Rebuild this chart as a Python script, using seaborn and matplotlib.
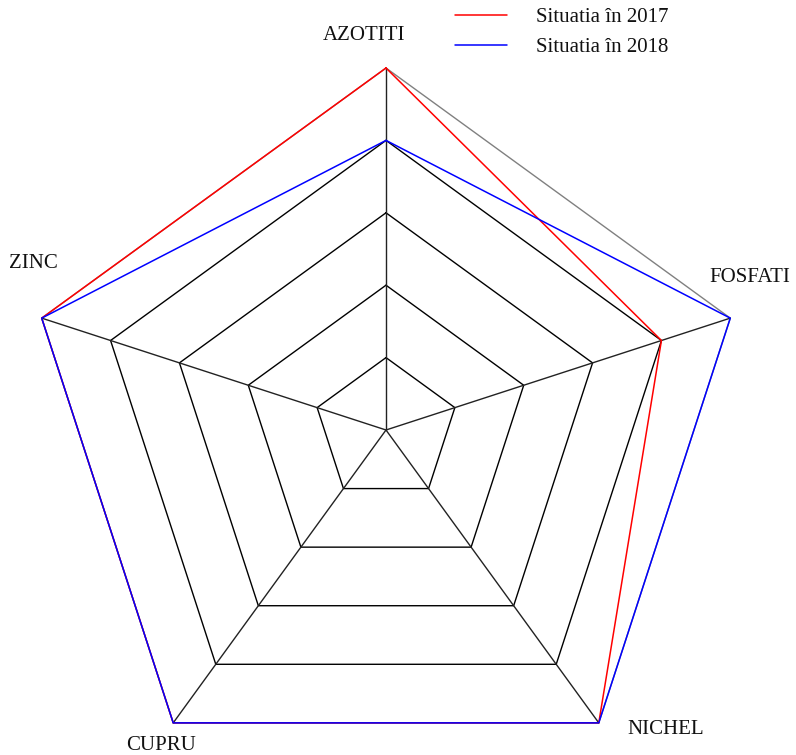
import numpy as np
import pandas as pd
import matplotlib
matplotlib.use("Agg")
import matplotlib.pyplot as plt
import seaborn as sns

categories = ["AZOTITI", "FOSFATI", "NICHEL", "CUPRU", "ZINC"]
values_2017 = [5, 4, 5, 5, 5]
values_2018 = [4, 5, 5, 5, 5]
series_labels = ["Situatia în 2017", "Situatia în 2018"]
levels = [1, 2, 3, 4, 5]
max_level = 5

sns.set_theme(style="white")
plt.rcParams["font.family"] = ["Liberation Serif", "DejaVu Serif"]

W, H, DPI = 796, 755, 100
fig = plt.figure(figsize=(W / DPI, H / DPI), dpi=DPI)
ax = fig.add_axes([0, 0, 1, 1])

# pixel layout -> data units (radius 1 == outer pentagon)
cx, cy, R = 386, 430, 362
ax.set_xlim(-cx / R, (W - cx) / R)
ax.set_ylim(-(H - cy) / R, cy / R)
ax.axis("off")

n = len(categories)
angles = np.deg2rad(90 - 360 / n * np.arange(n))

def to_xy(vals):
    r = np.asarray(vals, dtype=float) / max_level
    r = np.append(r, r[0])
    a = np.append(angles, angles[0])
    return r * np.cos(a), r * np.sin(a)

# grid pentagons
for lv in levels:
    x, y = to_xy([lv] * n)
    col = "#808080" if lv == max_level else "black"
    ax.plot(x, y, color=col, lw=1.0, zorder=1)
# spokes
for a in angles:
    ax.plot([0, np.cos(a)], [0, np.sin(a)], color="#222222", lw=1.0, zorder=1)

colors = ["#ff0000", "#0000ff"]
for vals, lab, col, z in zip([values_2017, values_2018], series_labels, colors, [2, 3]):
    x, y = to_xy(vals)
    df = pd.DataFrame({"x": x, "y": y, "i": np.arange(len(x))})
    sns.lineplot(data=df, x="x", y="y", sort=False, estimator=None, color=col,
                 lw=1.1, ax=ax, label=lab, zorder=z)

# category labels (pixel positions of label centres)
label_pos = {"AZOTITI": (364, 35), "FOSFATI": (750, 277), "NICHEL": (666, 729),
             "CUPRU": (161, 745), "ZINC": (33, 263)}
for c in categories:
    px, py = label_pos[c]
    ax.text((px - cx) / R, (cy - py) / R, c, ha="center", va="center",
            fontsize=15, color="#111111")

leg = ax.legend(loc="upper left", bbox_to_anchor=(447 / W, 1 + 1 / H),
                frameon=False, fontsize=15, handlelength=2.5,
                handletextpad=1.35, labelspacing=0.5, borderaxespad=0)
for t in leg.get_texts():
    t.set_color("#111111")

fig.savefig("out.png", dpi=DPI)
